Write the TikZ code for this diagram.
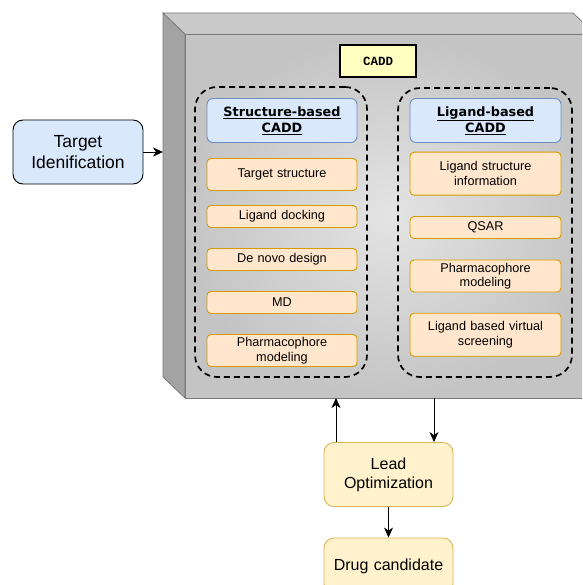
\documentclass[tikz,border=0pt]{standalone}
\usepackage{fontspec}
\setmainfont{Liberation Sans}
\newfontfamily\hdrfont{DejaVu Sans}
\newfontfamily\cmono{Liberation Mono}
\usetikzlibrary{arrows.meta}
\definecolor{blueFill}{HTML}{DAE8FC}
\definecolor{blueLine}{HTML}{6C8EBF}
\definecolor{orFill}{HTML}{FFE6CC}
\definecolor{orLine}{HTML}{D79B00}
\definecolor{yeFill}{HTML}{FFF2CC}
\definecolor{yeLine}{HTML}{D6B656}
\definecolor{caddFill}{HTML}{FFFFC0}
\definecolor{cubeEdge}{HTML}{7A7A7A}
\definecolor{cubeSide}{HTML}{A3A3A3}
\definecolor{cubeTop}{HTML}{C9C9C9}
\definecolor{cubeIn}{HTML}{E4E4E4}
\definecolor{cubeOut}{HTML}{C4C4C4}
\tikzset{
  arr/.style={-{Stealth[length=10pt,width=9pt,inset=3pt]}, line width=0.85pt, black},
  orbox/.style={draw=orLine, fill=orFill, rounded corners=4pt, line width=0.9pt,
    minimum width=150pt, text width=146pt, align=center, inner sep=0pt,
    font=\fontsize{12.7}{14.5}\selectfont},
  hdrbox/.style={draw=blueLine, fill=blueFill, rounded corners=6pt, line width=0.9pt,
    minimum width=150pt, minimum height=44pt, text width=146pt, align=center, inner sep=0pt,
    font=\hdrfont\bfseries\fontsize{12.8}{16}\selectfont},
  group/.style={draw=black, dashed, dash pattern=on 6pt off 4pt, line width=1.7pt,
    rounded corners=22pt, inner sep=0pt},
  bigbox/.style={rounded corners=10pt, line width=0.9pt, minimum width=129pt,
    minimum height=64pt, text width=125pt, align=center, inner sep=0pt,
    font=\fontsize{16}{19}\selectfont},
}
\begin{document}
\begin{tikzpicture}[x=1pt,y=-1pt]
\useasboundingbox (0,0) rectangle (582,585);
\begin{scope}
\clip (0,0) rectangle (582,585);
% cube
\filldraw[fill=cubeSide, draw=cubeEdge, line width=0.8pt] (163,13) -- (185,34) -- (185,398) -- (163,377) -- cycle;
\filldraw[fill=cubeTop, draw=cubeEdge, line width=0.8pt] (163,13) -- (573,13) -- (595,34) -- (185,34) -- cycle;
\shade[inner color=cubeIn, outer color=cubeOut] (185,34) rectangle (595,398);
\draw[cubeEdge, line width=0.8pt] (185,34) rectangle (595,398);
\node[minimum width=410pt, minimum height=364pt, inner sep=0pt] (cube) at (390,216) {};
\coordinate (cubeL) at (163,152);
\coordinate (cubeB1) at (336,398);
\coordinate (cubeB2) at (434,398);

% CADD label
\node[draw=black, fill=caddFill, line width=1.6pt, minimum width=76pt, minimum height=32pt,
  inner sep=0pt, font=\cmono\bfseries\fontsize{12.5}{14}\selectfont] (cadd) at (378,61) {CADD};

% groups
\node[group, minimum width=172pt, minimum height=290pt] (sgroup) at (281,232) {};
\node[group, minimum width=174pt, minimum height=289pt] (lgroup) at (485,232.5) {};

% structure-based column
\node[hdrbox] (sbhead) at (282,120.5) {\underline{Structure-based}\\\underline{CADD}};
\node[orbox, minimum height=32pt] (ts) at (282,174.5) {Target structure};
\node[orbox, minimum height=22pt] (ld) at (282,216.5) {Ligand docking};
\node[orbox, minimum height=22pt] (dn) at (282,259.5) {De novo design};
\node[orbox, minimum height=22pt] (md) at (282,302.5) {MD};
\node[orbox, minimum height=32pt] (pm) at (282,350.5) {Pharmacophore\\modeling};

% ligand-based column
\node[hdrbox, minimum width=151pt] (lbhead) at (485.5,120.5) {\underline{Ligand-based}\\\underline{CADD}};
\node[orbox, minimum width=151pt, minimum height=43pt] (lsi) at (485.5,173.7) {Ligand structure\\information};
\node[orbox, minimum width=151pt, minimum height=22pt] (qsar) at (485.5,227.5) {QSAR};
\node[orbox, minimum width=151pt, minimum height=32pt] (pm2) at (485.5,276) {Pharmacophore\\modeling};
\node[orbox, minimum width=151pt, minimum height=43pt] (lbvs) at (485.5,334.7) {Ligand based virtual\\screening};

% outside boxes
\node[bigbox, draw=black, fill=blueFill, minimum width=130pt, text width=126pt,
  font=\fontsize{17.5}{21.5}\selectfont] (target) at (78,152) {Target\\Idenification};
\node[bigbox, draw=yeLine, fill=yeFill] (lead) at (388.5,474.5) {Lead\\Optimization};
\node[bigbox, draw=yeLine, fill=yeFill, minimum height=56pt] (drug) at (388.5,566) {Drug candidate};

% connectors
\draw[arr] (target.east) -- (cubeL);
\draw[arr] (lead.north -| cubeB1) -- (cubeB1);
\draw[arr] (cubeB2) -- (lead.north -| cubeB2);
\draw[arr] (lead.south) -- (drug.north);
\end{scope}
\end{tikzpicture}
\end{document}
